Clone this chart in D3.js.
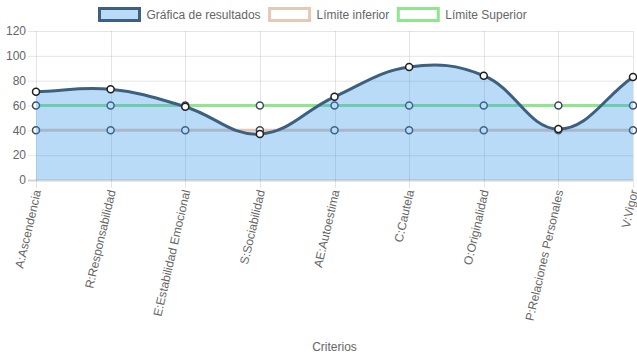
<!DOCTYPE html>
<html>
<head>
<meta charset="utf-8">
<script src="https://cdn.jsdelivr.net/npm/d3@7"></script>
<style>
  html, body { margin: 0; padding: 0; background: #fff; }
  svg { display: block; }
  text { font-family: "Liberation Sans", Arial, Helvetica, sans-serif; }
</style>
</head>
<body>
<svg id="chart" width="637" height="359"></svg>
<script>
const categories = ["A:Ascendencia", "R:Responsabilidad", "E:Estabilidad Emocional", "S:Sociabilidad",
  "AE:Autoestima", "C:Cautela", "O:Originalidad", "P:Relaciones Personales", "V:Vigor"];
const resultados = [71, 73, 59, 37, 67, 91, 84, 41, 83];
const limiteInferior = [40, 40, 40, 40, 40, 40, 40, 40, 40];
const limiteSuperior = [60, 60, 60, 60, 60, 60, 60, 60, 60];
const yTicks = [0, 20, 40, 60, 80, 100, 120];
const seriesNames = ["Gráfica de resultados", "Límite inferior", "Límite Superior"];
const xTitle = "Criterios";

const W = 637, H = 359;
const area = { left: 36, right: 633, top: 31, bottom: 180 };
const svg = d3.select("#chart");

const x = d3.scalePoint().domain(categories).range([area.left, area.right]);
const y = d3.scaleLinear().domain([0, 120]).range([area.bottom, area.top]);

// grid
const grid = svg.append("g");
grid.selectAll("line.h").data(yTicks).enter().append("line")
  .attr("x1", area.left - 8).attr("x2", area.right)
  .attr("y1", d => y(d) + 0.5).attr("y2", d => y(d) + 0.5)
  .attr("stroke", d => d === 0 ? "rgba(0,0,0,0.17)" : "rgba(0,0,0,0.1)").attr("stroke-width", d => d === 0 ? 2 : 1);
grid.selectAll("line.v").data(categories).enter().append("line")
  .attr("x1", d => Math.round(x(d)) + 0.5).attr("x2", d => Math.round(x(d)) + 0.5)
  .attr("y1", area.top).attr("y2", area.bottom + 8)
  .attr("stroke", "rgba(0,0,0,0.1)").attr("stroke-width", 1);

// y labels
svg.append("g").selectAll("text").data(yTicks).enter().append("text")
  .attr("x", 26).attr("y", d => y(d)).attr("dy", "0.35em")
  .attr("text-anchor", "end").attr("font-size", 12).attr("fill", "#666")
  .text(d => d);

// x labels
svg.append("g").selectAll("text").data(categories).enter().append("text")
  .attr("transform", d => `translate(${x(d) + 1},${area.bottom + 10}) rotate(-77)`)
  .attr("dy", "0.35em")
  .attr("text-anchor", "end").attr("font-size", 12).attr("fill", "#666")
  .text(d => d);

svg.append("text").attr("x", (area.left + area.right) / 2).attr("y", 347).attr("dy", "0.35em")
  .attr("text-anchor", "middle").attr("font-size", 12).attr("fill", "#666").text(xTitle);

// Chart.js-like spline
function splinePath(vals) {
  const pts = vals.map((v, i) => ({ x: x(categories[i]), y: y(v) }));
  const t = 0.4;
  const n = pts.length;
  pts.forEach((p, i) => {
    const prev = i > 0 ? pts[i - 1] : p;
    const next = i < n - 1 ? pts[i + 1] : p;
    const d01 = Math.hypot(p.x - prev.x, p.y - prev.y);
    const d12 = Math.hypot(next.x - p.x, next.y - p.y);
    let s01 = d01 / (d01 + d12), s12 = d12 / (d01 + d12);
    if (isNaN(s01)) s01 = 0; if (isNaN(s12)) s12 = 0;
    const fa = t * s01, fb = t * s12;
    const clampY = v => Math.max(area.top, Math.min(area.bottom, v));
    const clampX = v => Math.max(area.left, Math.min(area.right, v));
    p.cpPrev = { x: clampX(p.x - fa * (next.x - prev.x)), y: clampY(p.y - fa * (next.y - prev.y)) };
    p.cpNext = { x: clampX(p.x + fb * (next.x - prev.x)), y: clampY(p.y + fb * (next.y - prev.y)) };
  });
  const path = d3.path();
  path.moveTo(pts[0].x, pts[0].y);
  for (let i = 1; i < n; i++) {
    path.bezierCurveTo(pts[i - 1].cpNext.x, pts[i - 1].cpNext.y, pts[i].cpPrev.x, pts[i].cpPrev.y, pts[i].x, pts[i].y);
  }
  return { d: path.toString(), pts };
}

function drawPoints(vals, stroke, fill) {
  svg.append("g").selectAll("circle").data(vals).enter().append("circle")
    .attr("cx", (d, i) => x(categories[i])).attr("cy", d => y(d)).attr("r", 3.5)
    .attr("fill", fill).attr("stroke", stroke).attr("stroke-width", 1.5);
}

// upper limit
const up = splinePath(limiteSuperior);
svg.append("path").attr("d", up.d).attr("fill", "none").attr("stroke", "rgb(144,230,140)").attr("stroke-width", 3);
drawPoints(limiteSuperior, "#3c4a58", "#fff");
// lower limit
const lo = splinePath(limiteInferior);
svg.append("path").attr("d", lo.d).attr("fill", "none").attr("stroke", "rgb(230,200,185)").attr("stroke-width", 3);
drawPoints(limiteInferior, "#3c4a58", "#fff");

// results
const res = splinePath(resultados);
const fillD = res.d + `L${res.pts[res.pts.length - 1].x},${y(0)}L${res.pts[0].x},${y(0)}Z`;
svg.append("path").attr("d", fillD).attr("fill", "rgba(54,152,235,0.35)");
svg.append("path").attr("d", res.d).attr("fill", "none").attr("stroke", "#3e6080").attr("stroke-width", 3);
drawPoints(resultados, "#1f1f1f", "#fff");

// legend
const legendItems = [
  { name: seriesNames[0], fill: "rgba(54,152,235,0.35)", stroke: "#3e6080" },
  { name: seriesNames[1], fill: "#fff", stroke: "rgb(230,200,185)" },
  { name: seriesNames[2], fill: "#fff", stroke: "rgb(144,230,140)" }
];
const lg = svg.append("g");
let lx = 99.5;
legendItems.forEach(it => {
  lg.append("rect").attr("x", lx).attr("y", 8.5).attr("width", 40).attr("height", 12)
    .attr("fill", it.fill).attr("stroke", it.stroke).attr("stroke-width", 3);
  const tx = lg.append("text").attr("x", lx + 47).attr("y", 15).attr("dy", "0.35em")
    .attr("font-size", 12).attr("fill", "#666").text(it.name);
  const w = tx.node().getComputedTextLength();
  lx = lx + 47 + w + 9;
});
</script>
</body>
</html>
